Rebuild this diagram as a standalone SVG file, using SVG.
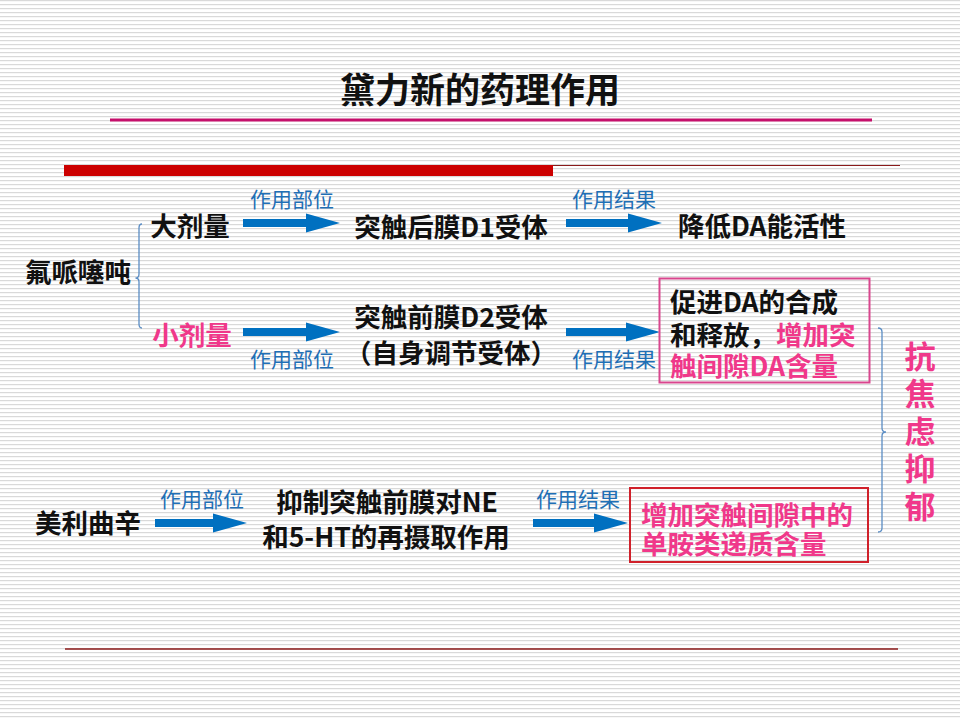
<svg xmlns="http://www.w3.org/2000/svg" width="960" height="720" viewBox="0 0 960 720">
<defs>
<pattern id="stripes" x="0" y="0" width="8" height="4" patternUnits="userSpaceOnUse">
<rect x="0" y="0" width="8" height="4" fill="#ffffff"/>
<rect x="0" y="0" width="8" height="1.2" fill="#d9d9d9"/>
</pattern>
<style>
text{font-family:"Noto Sans CJK SC","Liberation Sans",sans-serif;dominant-baseline:central}
.b{font-weight:bold;font-size:26.5px;fill:#111111}
.pk{fill:#F0388A}
.lbl{font-size:21px;fill:#1F6FB5}
.arr{fill:#0070C0}
.brace{fill:none;stroke:#5B8DC4;stroke-width:1.3}
</style>
</defs>
<rect x="0" y="0" width="960" height="720" fill="url(#stripes)"/>
<g id="decor">
<rect x="110" y="118.5" width="762" height="3" fill="#C50F6B"/>
<rect x="64" y="165" width="489" height="11" fill="#CC0000"/>
<line x1="553" y1="165.5" x2="900" y2="165.5" stroke="#8B1A1A" stroke-width="1.2"/>
<line x1="65" y1="649" x2="898" y2="649" stroke="#8B1A1A" stroke-width="1.6"/>
</g>
<g id="title"><text x="480" y="87" text-anchor="middle" style="font-weight:bold;font-size:35px;fill:#111">黛力新的药理作用</text></g>

<g id="connectors">
<path class="arr" d="M243,219 L306,219 L306,213.5 L340,223 L306,232.5 L306,227 L243,227 Z"/>
<path class="arr" d="M566,219 L628,219 L628,213.5 L662,223 L628,232.5 L628,227 L566,227 Z"/>
<path class="arr" d="M243,328 L306,328 L306,322.5 L340,332 L306,341.5 L306,336 L243,336 Z"/>
<path class="arr" d="M566,328 L626,328 L626,322.5 L660,332 L626,341.5 L626,336 L566,336 Z"/>
<path class="arr" d="M155,519 L213,519 L213,513.5 L247,523 L213,532.5 L213,527 L155,527 Z"/>
<path class="arr" d="M533,519 L594,519 L594,513.5 L628,523 L594,532.5 L594,527 L533,527 Z"/>
<path class="brace" d="M142,224 Q139,224 139,228 L139,274 Q139,278 135.5,278 Q139,278 139,282 L139,324 Q139,328 142,328"/>
<path class="brace" d="M878,328 Q882,328 882,332 L882,428 Q882,432 886,432 Q882,432 882,436 L882,528 Q882,532 878,532"/>
<text class="lbl" x="292" y="198" text-anchor="middle">作用部位</text>
<text class="lbl" x="292" y="358" text-anchor="middle">作用部位</text>
<text class="lbl" x="614" y="198" text-anchor="middle">作用结果</text>
<text class="lbl" x="614" y="358" text-anchor="middle">作用结果</text>
<text class="lbl" x="202" y="498" text-anchor="middle">作用部位</text>
<text class="lbl" x="578" y="498" text-anchor="middle">作用结果</text>
</g>

<g id="n-fluphenazine"><text class="b" x="78" y="270" text-anchor="middle">氟哌噻吨</text></g>
<g id="n-high"><text class="b" x="190" y="224" text-anchor="middle">大剂量</text></g>
<g id="n-low"><text class="b pk" x="192" y="333" text-anchor="middle">小剂量</text></g>
<g id="n-d1"><text class="b" x="451" y="225" text-anchor="middle">突触后膜D1受体</text></g>
<g id="n-d2"><text class="b" text-anchor="middle"><tspan x="451" y="315">突触前膜D2受体</tspan><tspan x="451" y="351">（自身调节受体）</tspan></text></g>
<g id="n-reduce"><text class="b" x="762" y="224" text-anchor="middle">降低DA能活性</text></g>
<g id="n-promote">
<rect x="659.5" y="278.5" width="210" height="104" fill="none" stroke="#D9468E" stroke-width="2"/>
<text class="b"><tspan x="670" y="300">促进DA的合成</tspan><tspan x="670" y="333">和释放，</tspan><tspan class="pk">增加突</tspan><tspan class="pk" x="670" y="364">触间隙DA含量</tspan></text>
</g>
<g id="n-melitracen"><text class="b" x="88" y="521" text-anchor="middle">美利曲辛</text></g>
<g id="n-inhibit"><text class="b" text-anchor="middle"><tspan x="387" y="500">抑制突触前膜对NE</tspan><tspan x="386" y="535">和5-HT的再摄取作用</tspan></text></g>
<g id="n-increase">
<rect x="630" y="488" width="238" height="74" fill="none" stroke="#D0202A" stroke-width="2"/>
<text class="b pk"><tspan x="641" y="513">增加突触间隙中的</tspan><tspan x="641" y="542">单胺类递质含量</tspan></text>
</g>
<g id="n-effect">
<text class="pk" x="920" y="340.5" writing-mode="tb" style="font-weight:bold;font-size:31px;letter-spacing:6.5px">抗焦虑抑郁</text>
</g>
</svg>
